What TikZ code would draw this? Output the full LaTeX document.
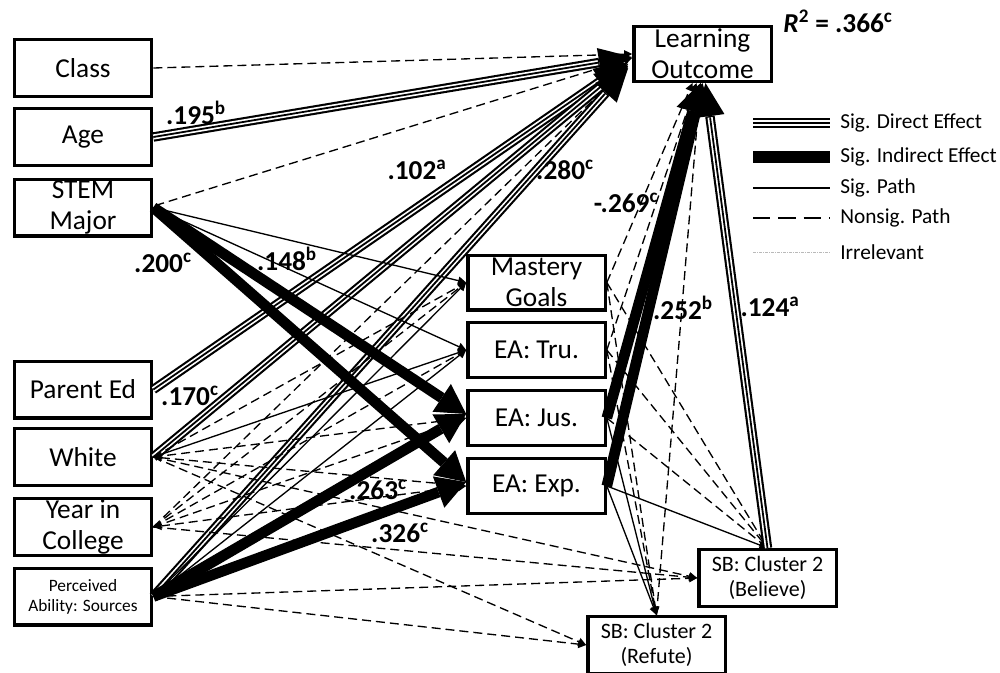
\documentclass[tikz,border=0pt]{standalone}
\usepackage{fontspec}
\setmainfont{Carlito}
\usetikzlibrary{arrows.meta,calc}
\tikzset{
  smalltip/.tip={Triangle[length=6pt,width=6pt]},
  heavytip/.tip={Triangle[length=22pt,width=25pt,line width=0pt]},
  directtip/.tip={Triangle[length=25pt,width=22pt,line width=0pt]},
}
\begin{document}
\begin{tikzpicture}[x=0.75pt,y=-0.75pt,
  box/.style={draw, line width=2.5pt, fill=white, minimum width=103pt, minimum height=42.5pt,
    inner sep=0pt, align=center, font=\fontsize{20.5}{23}\selectfont},
  medbox/.style={box, minimum height=41pt},
  sbbox/.style={box, font=\fontsize{16.5}{19}\selectfont},
  coef/.style={font=\fontsize{20.5}{20.5}\selectfont\bfseries, inner sep=0pt},
  legtext/.style={font=\fontsize{16}{16}\selectfont, anchor=west, inner sep=0pt},
  sigpath/.style={line width=1pt, -smalltip},
  nspath/.style={line width=1pt, dash pattern=on 6.75pt off 3.75pt, -smalltip},
  nsboth/.style={nspath, smalltip-smalltip},
  indirect/.style={line width=8pt, -heavytip},
  tripleline/.style={line width=7.1pt, postaction={draw=white, line width=3.9pt},
    postaction={draw=black, line width=1.35pt}},
  direct/.style={line width=7.1pt, -directtip,
    postaction={draw=white, line width=3.9pt, -, shorten >=26pt},
    postaction={draw=black, line width=1.35pt, -, shorten >=26pt}},
  nsleg/.style={line width=1pt, dash pattern=on 13pt off 6pt},
  irrleg/.style={line width=0.6pt, draw=gray!55, dash pattern=on 2pt off 1pt on 0.5pt off 1pt},
]
\useasboundingbox (0,0) rectangle (1000,672);
\clip (0,0) rectangle (1000,672);

% exogenous variables
\node[box] (class)  at (83,68)    {Class};
\node[box] (age)    at (83,137)   {Age};
\node[box] (stem)   at (83,207.5) {STEM\\Major};
\node[box] (parent) at (83,389.5) {Parent Ed};
\node[box] (white)  at (83,457)   {White};
\node[box] (year)   at (83,527)   {Year in\\College};
\node[box, font=\fontsize{13}{15}\selectfont] (perc) at (83,596.5) {Perceived\\Ability: Sources};

% mediators
\node[medbox] (mast) at (536.5,282.5) {Mastery\\Goals};
\node[medbox] (tru)  at (536.5,350)   {EA: Tru.};
\node[medbox] (jus)  at (536.5,418)   {EA: Jus.};
\node[medbox] (exp)  at (536.5,486)   {EA: Exp.};

% outcome and belief clusters
\node[medbox] (lo) at (702.5,54) {Learning\\Outcome};
\node[sbbox] (believe) at (767.5,578) {SB: Cluster 2\\(Believe)};
\node[sbbox] (refute)  at (656.5,645) {SB: Cluster 2\\(Refute)};

% paths into the outcome, left side
\draw[nspath] (class.east) -- (lo.west);
\draw[direct] (age.east) -- ($(lo.west)+(0,3)$);
\draw[nspath] ($(stem.east)+(2,-2)$) -- ($(lo.west)+(0,4)$);
\draw[direct] (parent.east) -- ($(lo.west)+(-4,8)$);
\draw[direct] (white.east) -- ($(lo.west)+(-4,10)$);
\draw[nspath] (year.east) -- ($(lo.west)+(-4,12)$);
\draw[direct] (perc.east) -- ($(lo.west)+(-4,14)$);

% STEM major to mediators
\draw[sigpath] (stem.east) -- (mast.west);
\draw[sigpath] (stem.east) -- (tru.west);
\draw[indirect] (stem.east) -- ($(jus.west)+(0,-4)$);
\draw[indirect] (stem.east) -- ($(exp.west)+(0,-4)$);

% White
\draw[sigpath] (white.east) -- (tru.west);
\draw[nspath] (white.east) -- (mast.west);
\draw[nspath] (white.east) -- (jus.west);
\draw[nsboth] (white.east) -- (exp.west);
\draw[nspath] (white.east) -- (believe.west);
\draw[nspath] (white.east) -- (refute.west);

% Year in college
\draw[nspath] (year.east) -- (mast.west);
\draw[nspath] (year.east) -- (tru.west);
\draw[nspath] (year.east) -- (jus.west);
\draw[nsboth] (year.east) -- (exp.west);
\draw[nspath] (year.east) -- (believe.west);

% Perceived ability
\draw[sigpath] (perc.east) -- (mast.west);
\draw[sigpath] (perc.east) -- (tru.west);
\draw[indirect] (perc.east) -- ($(jus.west)+(0,-4)$);
\draw[indirect] (perc.east) -- ($(exp.west)+(0,-4)$);
\draw[nspath] (perc.east) -- (believe.west);
\draw[nspath] (perc.east) -- (refute.west);

% mediators to belief clusters
\draw[nspath] (mast.east) -- (believe.north);
\draw[nspath] (tru.east) -- (believe.north);
\draw[nspath] (jus.east) -- (believe.north);
\draw[sigpath] (exp.east) -- (believe.north);
\draw[nspath] (mast.east) -- (refute.north);
\draw[nspath] (tru.east) -- (refute.north);
\draw[sigpath] (jus.east) -- (refute.north);
\draw[sigpath] (exp.east) -- (refute.north);

% paths into the outcome, from below
\draw[nspath] (mast.east) -- ($(lo.south)+(-10,0)$);
\draw[nspath] (tru.east) -- ($(lo.south)+(-6,0)$);
\draw[nspath] (refute.north) -- ($(lo.south)+(-2,0)$);
\draw[indirect] (jus.east) -- ($(lo.south)+(-2,0)$);
\draw[indirect] (exp.east) -- (lo.south);
\draw[direct] (believe.north) -- ($(lo.south)+(3,0)$);

% coefficients
\node[coef] (c195) at (196,113) {.195\textsuperscript{b}};
\node[coef] (c102) at (417,170) {.102\textsuperscript{a}};
\node[coef] (c280) at (565,170) {.280\textsuperscript{c}};
\node[coef] (c269) at (626,203) {-.269\textsuperscript{c}};
\node[coef] (c252) at (683,308) {.252\textsuperscript{b}};
\node[coef] (c124) at (770,307) {.124\textsuperscript{a}};
\node[coef] (c148) at (287,259) {.148\textsuperscript{b}};
\node[coef] (c200) at (163,263) {.200\textsuperscript{c}};
\node[coef] (c170) at (190,396) {.170\textsuperscript{c}};
\node[coef] (c263) at (378,490) {.263\textsuperscript{c}};
\node[coef] (c326) at (400,533) {.326\textsuperscript{c}};
\node[coef] (rsq) at (838,21) {\textit{R}\textsuperscript{2} = .366\textsuperscript{c}};

% legend
\coordinate (lgA) at (753,123); \coordinate (lgB) at (830,123);
\coordinate (lgC) at (753,157); \coordinate (lgD) at (830,157);
\coordinate (lgE) at (753,188); \coordinate (lgF) at (830,188);
\coordinate (lgG) at (753,218); \coordinate (lgH) at (830,218);
\coordinate (lgI) at (753,252); \coordinate (lgJ) at (830,252);
\draw[tripleline] (lgA) -- (lgB);
\draw[line width=8.5pt] (lgC) -- (lgD);
\draw[line width=1pt] (lgE) -- (lgF);
\draw[nsleg] (lgG) -- (lgH);
\draw[irrleg] (lgI) -- (lgJ);
\node[legtext] (lt1) at (840,123) {Sig. Direct Effect};
\node[legtext] (lt2) at (840,157) {Sig. Indirect Effect};
\node[legtext] (lt3) at (840,188) {Sig. Path};
\node[legtext] (lt4) at (840,218) {Nonsig. Path};
\node[legtext] (lt5) at (840,252) {Irrelevant};
\end{tikzpicture}
\end{document}
